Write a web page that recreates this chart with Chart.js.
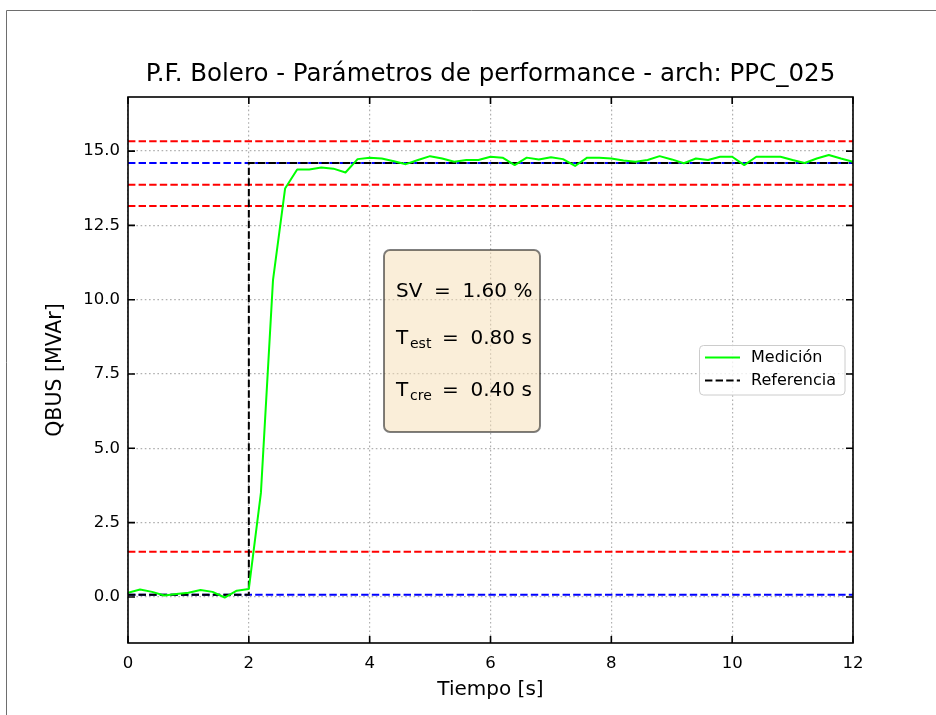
<!DOCTYPE html>
<html>
<head>
<meta charset="utf-8">
<script src="https://cdn.jsdelivr.net/npm/chart.js@4.4.1/dist/chart.umd.min.js"></script>
<style>
  html, body { margin: 0; padding: 0; background: #fff; }
  canvas { display: block; }
</style>
</head>
<body>
<canvas id="grafico" width="936" height="715"></canvas>
<script>
// QBUS medida, muestreo cada 0.2 s
const tiempo = [0, 0.2, 0.4, 0.6, 0.8, 1, 1.2, 1.4, 1.6, 1.8, 2,
  2.2, 2.4, 2.6, 2.8, 3, 3.2, 3.4, 3.6, 3.8, 4,
  4.2, 4.4, 4.6, 4.8, 5, 5.2, 5.4, 5.6, 5.8, 6,
  6.2, 6.4, 6.6, 6.8, 7, 7.2, 7.4, 7.6, 7.8, 8,
  8.2, 8.4, 8.6, 8.8, 9, 9.2, 9.4, 9.6, 9.8, 10,
  10.2, 10.4, 10.6, 10.8, 11, 11.2, 11.4, 11.6, 11.8, 12];
const medicion = [0.14, 0.25, 0.17, 0.05, 0.10, 0.14, 0.23, 0.17, -0.02, 0.21, 0.27,
  3.5, 10.66, 13.74, 14.38, 14.38, 14.45, 14.41, 14.28, 14.73, 14.78,
  14.75, 14.66, 14.56, 14.70, 14.83, 14.75, 14.64, 14.70, 14.70, 14.81,
  14.78, 14.53, 14.78, 14.72, 14.79, 14.73, 14.50, 14.78, 14.78, 14.75,
  14.68, 14.64, 14.70, 14.83, 14.72, 14.59, 14.75, 14.70, 14.81, 14.81,
  14.53, 14.81, 14.81, 14.81, 14.70, 14.60, 14.75, 14.87, 14.75, 14.64];

// consigna: escalon en t = 2 s
const refTiempo = [0, 2, 2, 12];
const refValor = [0.07, 0.07, 14.6, 14.6];

// banda +-5 % y niveles 10 % / 90 % (rojo), valores inicial y final (azul)
const lineasRojas = [15.33, 13.87, 13.15, 1.52];
const lineasAzules = [14.6, 0.07];

const rangoX = [0, 12];
const rangoY = [-1.55, 16.82];
const ticksX = [0, 2, 4, 6, 8, 10, 12];
const ticksY = [0, 2.5, 5, 7.5, 10, 12.5, 15];

const indicadores = ['SV', 'T', 'T'];
const subindices = ['', 'est', 'cre'];
const valoresInd = ['1.60 %', '0.80 s', '0.40 s'];

const FUENTE = 'DejaVu Sans';
Chart.defaults.font.family = FUENTE;
Chart.defaults.color = '#000';

const puntos = (xs, ys) => xs.map((x, i) => ({ x: x, y: ys[i] }));
const horizontal = (v) => puntos(rangoX, [v, v]);
const DASH = [7.4, 3.2];

const datasets = [
  {
    label: 'Medición',
    data: puntos(tiempo, medicion),
    borderColor: '#00ff00',
    borderWidth: 2,
    borderJoinStyle: 'round',
    enLeyenda: true,
    order: 0,
  },
  {
    label: 'Referencia',
    data: puntos(refTiempo, refValor),
    borderColor: '#000000',
    borderWidth: 2,
    borderDash: DASH,
    enLeyenda: true,
    order: 1,
  },
];
lineasRojas.forEach(v => datasets.push({
  label: '', data: horizontal(v), borderColor: '#ff0000', borderWidth: 2, borderDash: DASH, order: 2
}));
lineasAzules.forEach(v => datasets.push({
  label: '', data: horizontal(v), borderColor: '#0000ff', borderWidth: 2, borderDash: DASH, order: 2
}));

function rectRedondeado(ctx, x, y, w, h, r) {
  ctx.beginPath();
  ctx.moveTo(x + r, y);
  ctx.lineTo(x + w - r, y);
  ctx.arcTo(x + w, y, x + w, y + r, r);
  ctx.lineTo(x + w, y + h - r);
  ctx.arcTo(x + w, y + h, x + w - r, y + h, r);
  ctx.lineTo(x + r, y + h);
  ctx.arcTo(x, y + h, x, y + h - r, r);
  ctx.lineTo(x, y + r);
  ctx.arcTo(x, y, x + r, y, r);
  ctx.closePath();
}

// marco de la figura, ejes con ticks hacia adentro, leyenda y cuadro de indicadores
const decoracion = {
  id: 'decoracion',
  beforeDraw(chart) {
    const ctx = chart.ctx;
    ctx.save();
    ctx.fillStyle = '#fff';
    ctx.fillRect(0, 0, chart.width, chart.height);
    ctx.strokeStyle = '#6e6e6e';
    ctx.lineWidth = 1;
    ctx.beginPath();
    ctx.moveTo(6.5, chart.height);
    ctx.lineTo(6.5, 10.5);
    ctx.lineTo(chart.width, 10.5);
    ctx.stroke();
    ctx.restore();
  },
  afterDatasetsDraw(chart) {
    const { ctx, chartArea: a, scales: { x, y } } = chart;
    const largo = 7;
    ctx.save();
    ctx.strokeStyle = '#000';
    ctx.lineWidth = 1.6;
    ctx.beginPath();
    x.ticks.forEach(t => {
      const px = x.getPixelForValue(t.value);
      ctx.moveTo(px, a.top); ctx.lineTo(px, a.top + largo);
      ctx.moveTo(px, a.bottom); ctx.lineTo(px, a.bottom - largo);
    });
    y.ticks.forEach(t => {
      const py = y.getPixelForValue(t.value);
      ctx.moveTo(a.left, py); ctx.lineTo(a.left + largo, py);
      ctx.moveTo(a.right, py); ctx.lineTo(a.right - largo, py);
    });
    ctx.stroke();
    ctx.strokeRect(a.left, a.top, a.right - a.left, a.bottom - a.top);
    ctx.restore();
  },
  afterDraw(chart) {
    const ctx = chart.ctx;
    ctx.save();

    // leyenda
    rectRedondeado(ctx, 699.5, 345.5, 145.5, 49.5, 4);
    ctx.fillStyle = 'rgba(255,255,255,0.8)';
    ctx.fill();
    ctx.strokeStyle = '#cccccc';
    ctx.lineWidth = 1;
    ctx.stroke();
    ctx.font = '16px "' + FUENTE + '"';
    ctx.textBaseline = 'middle';
    ctx.textAlign = 'left';
    let yl = 357.5;
    chart.data.datasets.filter(d => d.enLeyenda).forEach(d => {
      ctx.beginPath();
      ctx.strokeStyle = d.borderColor;
      ctx.lineWidth = d.borderWidth;
      ctx.setLineDash(d.borderDash || []);
      ctx.moveTo(705, yl);
      ctx.lineTo(740, yl);
      ctx.stroke();
      ctx.setLineDash([]);
      ctx.fillStyle = '#000';
      ctx.fillText(d.label, 751, yl);
      yl += 23;
    });

    // cuadro de indicadores
    rectRedondeado(ctx, 384, 250, 156, 182, 6);
    ctx.fillStyle = 'rgba(245,222,179,0.5)';
    ctx.fill();
    ctx.strokeStyle = 'rgba(0,0,0,0.5)';
    ctx.lineWidth = 2;
    ctx.stroke();

    const bases = [297, 344, 396];
    ctx.fillStyle = '#000';
    ctx.textBaseline = 'alphabetic';
    indicadores.forEach((nombre, i) => {
      const b = bases[i];
      ctx.font = '20px "' + FUENTE + '"';
      ctx.fillText(nombre, 396, b);
      if (subindices[i]) {
        ctx.font = '14px "' + FUENTE + '"';
        ctx.fillText(subindices[i], 410, b + 4);
        ctx.font = '20px "' + FUENTE + '"';
        ctx.fillText('=', 442, b);
        ctx.fillText(valoresInd[i], 470.5, b);
      } else {
        ctx.fillText('=', 434, b);
        ctx.fillText(valoresInd[i], 462.5, b);
      }
    });
    ctx.restore();
  }
};

new Chart(document.getElementById('grafico'), {
  type: 'line',
  data: { datasets: datasets },
  plugins: [decoracion],
  options: {
    responsive: false,
    animation: false,
    devicePixelRatio: 1,
    layout: { padding: { left: 0, right: 83, top: 0, bottom: 0 } },
    elements: { point: { radius: 0 }, line: { tension: 0 } },
    plugins: {
      legend: { display: false },
      tooltip: { enabled: false },
      title: {
        display: true,
        fullSize: false,
        text: 'P.F. Bolero - Parámetros de performance - arch: PPC_025',
        font: { size: 24.5, weight: 'normal', family: FUENTE, lineHeight: 1.2 },
        color: '#000',
        padding: { top: 60, bottom: 7.6 },
      },
    },
    scales: {
      x: {
        type: 'linear',
        min: rangoX[0],
        max: rangoX[1],
        afterBuildTicks: s => { s.ticks = ticksX.map(v => ({ value: v })); },
        afterFit: s => { s.height = 72; },
        ticks: { font: { size: 16.5 }, padding: 11, callback: v => String(v) },
        grid: { color: '#b0b0b0', lineWidth: 1.2, drawTicks: false },
        border: { display: false, dash: [1.6, 2.6] },
        title: {
          display: true,
          text: 'Tiempo [s]',
          font: { size: 20 },
          padding: { top: 0, bottom: 13 },
        },
      },
      y: {
        type: 'linear',
        min: rangoY[0],
        max: rangoY[1],
        afterBuildTicks: s => { s.ticks = ticksY.map(v => ({ value: v })); },
        afterFit: s => { s.width = 128; },
        ticks: { font: { size: 16.5 }, padding: 8, callback: v => v.toFixed(1) },
        grid: { color: '#b0b0b0', lineWidth: 1.2, drawTicks: false },
        border: { display: false, dash: [1.6, 2.6] },
        title: {
          display: true,
          text: 'QBUS [MVAr]',
          font: { size: 20.5 },
          padding: { top: 43, bottom: 0 },
        },
      },
    },
  },
});
</script>
</body>
</html>
